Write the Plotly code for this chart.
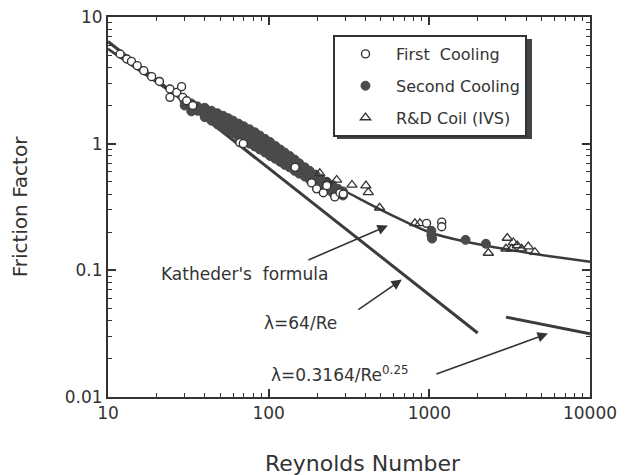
import plotly.graph_objects as go

# ---------------- data ----------------
# First Cooling (open circles)
fc_re = [11.9, 13.1, 14.0, 15.2, 16.7, 18.7, 20.9, 24.3, 24.3, 26.8, 28.7, 29.2, 30.9, 33.7,
         66.2, 69.5, 146, 185, 199, 219, 230, 258, 278, 291, 961, 1194, 1194]
fc_f = [5.10, 4.66, 4.46, 4.13, 3.77, 3.38, 3.10, 2.70, 2.32, 2.54, 2.82, 2.32, 2.18, 2.00,
        1.02, 1.00, 0.65, 0.49, 0.44, 0.41, 0.466, 0.38, 0.41, 0.40, 0.235, 0.24, 0.221]

# Second Cooling (filled circles)
sc_re = [30, 30, 33, 33, 33, 36, 36, 40, 40, 40, 44, 44, 44, 48, 48, 48, 52, 52, 52,
         56, 56, 56, 60, 60, 60, 65, 65, 65, 70, 70, 70, 76, 76, 76, 82, 82, 82,
         88, 88, 88, 95, 95, 95, 102, 102, 102, 110, 110, 110, 118, 118, 118,
         126, 126, 126, 135, 135, 135, 145, 145, 145, 155, 155, 155, 168, 168, 168,
         180, 180, 180, 195, 195, 195, 210, 210, 210, 230, 230, 230, 250, 250, 250,
         270, 270, 290, 290, 1030, 1030, 1040, 1680, 2250]
sc_f = [2.15, 2.00, 2.08, 1.92, 1.80, 1.97, 1.82, 1.92, 1.76, 1.62, 1.82, 1.66, 1.52,
        1.74, 1.57, 1.42, 1.66, 1.49, 1.35, 1.59, 1.42, 1.27, 1.52, 1.35, 1.21,
        1.44, 1.28, 1.14, 1.37, 1.21, 1.07, 1.30, 1.14, 1.00, 1.23, 1.08, 0.95,
        1.16, 1.02, 0.90, 1.09, 0.96, 0.85, 1.03, 0.91, 0.80, 0.96, 0.85, 0.76,
        0.90, 0.80, 0.72, 0.85, 0.76, 0.68, 0.80, 0.71, 0.65, 0.75, 0.67, 0.61,
        0.70, 0.63, 0.58, 0.65, 0.59, 0.55, 0.61, 0.56, 0.52, 0.57, 0.52, 0.48,
        0.53, 0.49, 0.46, 0.50, 0.46, 0.43, 0.47, 0.44, 0.41, 0.44, 0.41, 0.42, 0.39,
        0.205, 0.19, 0.178, 0.174, 0.162]

# R&D Coil (IVS) (open triangles)
rd_re = [208, 232, 265, 330, 403, 417, 490, 813, 874, 2330,
         3055, 3330, 3000, 3255, 3525, 3750, 4130, 4540]
rd_f = [0.583, 0.495, 0.517, 0.472, 0.466, 0.413, 0.312, 0.235, 0.235, 0.137,
        0.180, 0.166, 0.148, 0.148, 0.157, 0.148, 0.154, 0.139]

# Katheder's formula curve
kat_re = [10, 17.8, 31.6, 56.2, 100, 178, 316, 562, 1000, 1778, 3162, 5623, 10000]
kat_f = [5.60, 3.39, 2.09, 1.35, 0.891, 0.596, 0.406, 0.279, 0.200, 0.166, 0.145, 0.129, 0.117]

# lambda = 64/Re line
lam_re = [10, 2000]
lam_f = [6.4, 0.032]

# lambda = 0.3164/Re^0.25 line
bl_re = [3000, 10000]
bl_f = [0.0427, 0.0316]

x_ticks = [10, 100, 1000, 10000]
x_ticktext = ["10", "100", "1000", "10000"]
y_ticks = [0.01, 0.1, 1, 10]
y_ticktext = ["0.01", "0.1", "1", "10"]

FONT = "DejaVu Sans"
INK = "#333333"
LINE = "#3c3c3c"

fig = go.Figure()

fig.add_trace(go.Scatter(x=lam_re, y=lam_f, mode="lines", line=dict(color=LINE, width=3),
                         showlegend=False, hoverinfo="skip"))
fig.add_trace(go.Scatter(x=bl_re, y=bl_f, mode="lines", line=dict(color=LINE, width=3),
                         showlegend=False, hoverinfo="skip"))
fig.add_trace(go.Scatter(x=kat_re, y=kat_f, mode="lines",
                         line=dict(color=LINE, width=2.5, shape="spline", smoothing=1.0),
                         showlegend=False, hoverinfo="skip"))

fig.add_trace(go.Scatter(x=sc_re, y=sc_f, mode="markers", name="Second Cooling",
                         legendrank=2, legendgroup="b",
                         marker=dict(symbol="circle", size=9, color="#4a4a4a",
                                     line=dict(color="#4a4a4a", width=1))))
fig.add_trace(go.Scatter(x=rd_re, y=rd_f, mode="markers", name="R&D Coil (IVS)",
                         legendrank=3, legendgroup="c",
                         marker=dict(symbol="triangle-up-open", size=9, color=INK,
                                     line=dict(color=INK, width=1.3))))
fig.add_trace(go.Scatter(x=fc_re, y=fc_f, mode="markers", name="First\u00a0 Cooling",
                         legendrank=1, legendgroup="a",
                         marker=dict(symbol="circle", size=8, color="white",
                                     line=dict(color=INK, width=1.4))))

minor_vals = [k * 10 ** d for d in range(1, 4) for k in range(2, 10)]
minor_y = [k * 10 ** d for d in range(-2, 1) for k in range(2, 10)]

fig.update_xaxes(type="log", range=[1, 4], tickvals=x_ticks, ticktext=x_ticktext,
                 ticks="inside", ticklen=8, tickwidth=1.5, tickcolor=INK,
                 showline=True, linecolor=INK, linewidth=2, mirror="ticks",
                 showgrid=False, zeroline=False, automargin=False, ticklabeloverflow="allow",
                 minor=dict(tickvals=minor_vals, ticks="inside", ticklen=4, tickwidth=1.2,
                            tickcolor=INK, showgrid=False),
                 tickfont=dict(family=FONT, size=17, color=INK))
fig.update_yaxes(type="log", range=[-2, 1], tickvals=y_ticks, ticktext=y_ticktext,
                 ticks="inside", ticklen=8, tickwidth=1.5, tickcolor=INK,
                 showline=True, linecolor=INK, linewidth=2, mirror="ticks",
                 showgrid=False, zeroline=False, automargin=False, ticklabeloverflow="allow",
                 minor=dict(tickvals=minor_y, ticks="inside", ticklen=4, tickwidth=1.2,
                            tickcolor=INK, showgrid=False),
                 tickfont=dict(family=FONT, size=17, color=INK),
                 title=dict(text="Friction Factor", font=dict(family=FONT, size=20, color=INK), standoff=33))

ann_font = dict(family=FONT, size=17, color=INK)
annotations = [
    dict(x=0.529, y=-0.174, xref="paper", yref="paper", text="Reynolds Number", showarrow=False,
         xanchor="center", yanchor="middle", font=dict(family=FONT, size=22, color=INK)),
    dict(x=1.8525, y=-1.026, xref="x", yref="y", text="Katheder's\u00a0 formula", showarrow=False, font=ann_font),
    dict(x=2.195, y=-1.413, xref="x", yref="y", text="λ=64/Re", showarrow=False, font=ann_font),
    dict(x=2.444, y=-1.815, xref="x", yref="y", text="λ=0.3164/Re<sup>0.25</sup>", showarrow=False, font=ann_font),
    dict(x=2.742, y=-0.647, xref="x", yref="y", ax=-81, ay=35, text="", showarrow=True,
         arrowhead=2, arrowsize=1.3, arrowwidth=1.6, arrowcolor=INK),
    dict(x=2.829, y=-1.073, xref="x", yref="y", ax=-45, ay=31, text="", showarrow=True,
         arrowhead=2, arrowsize=1.3, arrowwidth=1.6, arrowcolor=INK),
    dict(x=3.738, y=-1.4996, xref="x", yref="y", ax=-113, ay=41, text="", showarrow=True,
         arrowhead=2, arrowsize=1.3, arrowwidth=1.6, arrowcolor=INK),
]

# legend shadow
shapes = [dict(type="rect", xref="paper", yref="paper", x0=0.4751, x1=0.8797, y0=0.679, y1=0.942,
               fillcolor="#444444", line=dict(width=0), layer="above")]

# the page body adds an 8px offset, so the figure is 8px smaller on each axis
fig.update_layout(
    width=618, height=467,
    margin=dict(l=100, r=36, t=9, b=78),
    paper_bgcolor="white", plot_bgcolor="white",
    font=dict(family=FONT, color=INK),
    annotations=annotations,
    shapes=shapes,
    legend=dict(x=0.4668, y=0.9526, xanchor="left", yanchor="top",
                bgcolor="white", bordercolor=INK, borderwidth=2,
                font=dict(family=FONT, size=16, color=INK),
                traceorder="grouped", tracegroupgap=8, itemwidth=51),
)

fig.write_html("out.html")
